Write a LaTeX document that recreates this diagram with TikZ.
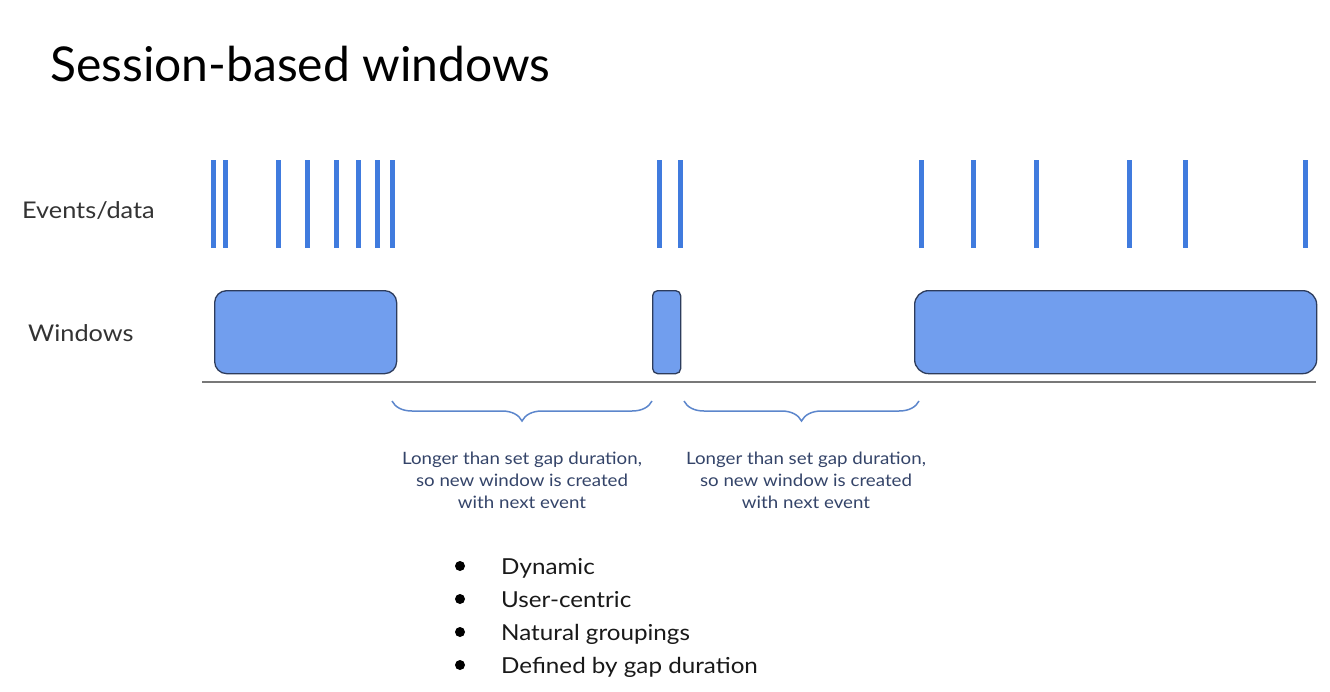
\documentclass[tikz,border=0pt]{standalone}
\usepackage{fontspec}
\setmainfont{Lato}
\newfontfamily\widefont{Lato}[FakeStretch=1.1]
\usetikzlibrary{decorations.pathreplacing}
\definecolor{evblue}{RGB}{64,123,222}
\definecolor{winfill}{RGB}{113,158,238}
\definecolor{windraw}{RGB}{45,60,92}
\definecolor{bracecol}{RGB}{92,134,204}
\definecolor{notecol}{RGB}{52,68,105}
\definecolor{axisgray}{RGB}{120,120,120}
\tikzset{
  event/.style={line width=5pt, draw=evblue},
  winbox/.style={draw=windraw, line width=1.3pt, fill=winfill},
  gapbrace/.style={draw=bracecol, line width=1.5pt, decorate, decoration={brace, mirror, amplitude=20pt}},
  note/.style={text=notecol, align=center, font=\widefont\fontsize{17}{22}\selectfont, anchor=north},
  rowlabel/.style={anchor=base west, font=\widefont\fontsize{23}{27}\selectfont, text=black!80},
  bullettext/.style={anchor=base west, font=\widefont\fontsize{22}{26}\selectfont, text=black!90},
}
\begin{document}
\begin{tikzpicture}[x=1pt,y=-1pt]
\useasboundingbox (0,0) rectangle (1330,691);
\fill[white] (0,0) rectangle (1330,691);
% title
\node[anchor=base west, font=\fontsize{48}{54}\selectfont, inner sep=0pt] (title) at (50,81) {Session-based windows};
% row labels
\node[rowlabel, inner sep=0pt] (evlabel) at (22,218) {Events/data};
\node[rowlabel, inner sep=0pt] (winlabel) at (28,341) {Windows};
% events
\foreach \x in {213,225,278,307,336,358,377,392,659,680,921,973,1036,1129,1185,1305}
  \draw[event] (\x,160) -- (\x,248);
% windows
\node[winbox, rounded corners=12pt, minimum width=182pt, minimum height=83pt, anchor=north west, inner sep=0pt] (w1) at (214,290) {};
\node[winbox, rounded corners=5pt, minimum width=28pt, minimum height=83pt, anchor=north west, inner sep=0pt] (w2) at (652,290) {};
\node[winbox, rounded corners=14pt, minimum width=402pt, minimum height=83pt, anchor=north west, inner sep=0pt] (w3) at (914,290) {};
% axis
\coordinate (axL) at (202,382);
\coordinate (axR) at (1316,382);
\draw[axisgray, line width=1.8pt] (axL) -- (axR);
% braces
\coordinate (b1s) at (392,401);
\coordinate (b1e) at (652,401);
\coordinate (b2s) at (684,401);
\coordinate (b2e) at (919,401);
\draw[gapbrace] (b1s) -- (b1e);
\draw[gapbrace] (b2s) -- (b2e);
\node[note] (n1) at (522,448) {Longer than set gap duration,\\so new window is created\\with next event};
\node[note] (n2) at (806,448) {Longer than set gap duration,\\so new window is created\\with next event};
% bullets
\foreach \y/\t [count=\i] in {574/Dynamic,607/User-centric,640/Natural groupings,673/Defined by gap duration}{
  \fill (460,\y-8) circle (5pt);
  \node[bullettext, inner sep=0pt] (b\i) at (501,\y) {\t};
}
\end{tikzpicture}
\end{document}
